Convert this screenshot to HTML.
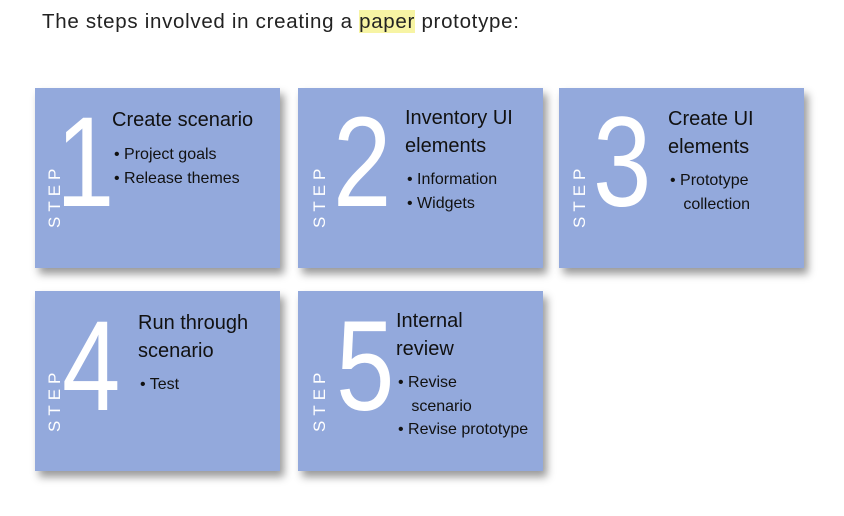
<!DOCTYPE html>
<html><head><meta charset="utf-8"><style>
body{margin:0;width:844px;height:516px;background:#fff;position:relative;overflow:hidden;font-family:"Liberation Sans",sans-serif}
.h{position:absolute;left:42px;top:9px;font-size:20.5px;color:#222;white-space:nowrap;line-height:26px;letter-spacing:0.7px}
.h span{background:#f7f4a4}
.b{position:absolute;width:245px;height:180px;background:#93a9dc;box-shadow:4px 6px 8px rgba(0,0,0,.4)}
.d{position:absolute;color:#fff;font-size:128px;line-height:132px;font-weight:normal;transform:scaleX(0.82);transform-origin:0 0}
.s{position:absolute;color:#fff;font-size:17px;letter-spacing:5px;transform:rotate(-90deg);transform-origin:0 0;white-space:nowrap;line-height:20px}
.t{position:absolute;color:#111;font-size:20px;line-height:28px;white-space:nowrap}
.l{position:absolute;color:#111;font-size:16px;line-height:23.5px;white-space:nowrap}
</style></head><body>
<div class="h">The steps involved in creating a <span>paper</span> prototype:</div>

<div class="b" style="left:35px;top:88px"></div>
<div class="b" style="left:298px;top:88px"></div>
<div class="b" style="left:559px;top:88px"></div>
<div class="b" style="left:35px;top:291px"></div>
<div class="b" style="left:298px;top:291px"></div>

<div class="d" style="left:56px;top:97px">1</div>
<div class="s" style="left:45px;top:228px">STEP</div>
<div class="t" style="left:112px;top:106px">Create scenario</div>
<div class="l" style="left:114px;top:143px">• Project goals<br>• Release themes</div>

<div class="d" style="left:333px;top:97px">2</div>
<div class="s" style="left:310px;top:228px">STEP</div>
<div class="t" style="left:405px;top:104px">Inventory UI<br>elements</div>
<div class="l" style="left:407px;top:168px">• Information<br>• Widgets</div>

<div class="d" style="left:593px;top:97px">3</div>
<div class="s" style="left:570px;top:228px">STEP</div>
<div class="t" style="left:668px;top:105px">Create UI<br>elements</div>
<div class="l" style="left:670px;top:169px">• Prototype<br>&nbsp;&nbsp;&nbsp;collection</div>

<div class="d" style="left:62px;top:301px">4</div>
<div class="s" style="left:45px;top:432px">STEP</div>
<div class="t" style="left:138px;top:309px">Run through<br>scenario</div>
<div class="l" style="left:140px;top:373px">• Test</div>

<div class="d" style="left:336px;top:301px">5</div>
<div class="s" style="left:310px;top:432px">STEP</div>
<div class="t" style="left:396px;top:307px">Internal<br>review</div>
<div class="l" style="left:398px;top:371px">• Revise<br>&nbsp;&nbsp;&nbsp;scenario<br>• Revise prototype</div>
</body></html>
